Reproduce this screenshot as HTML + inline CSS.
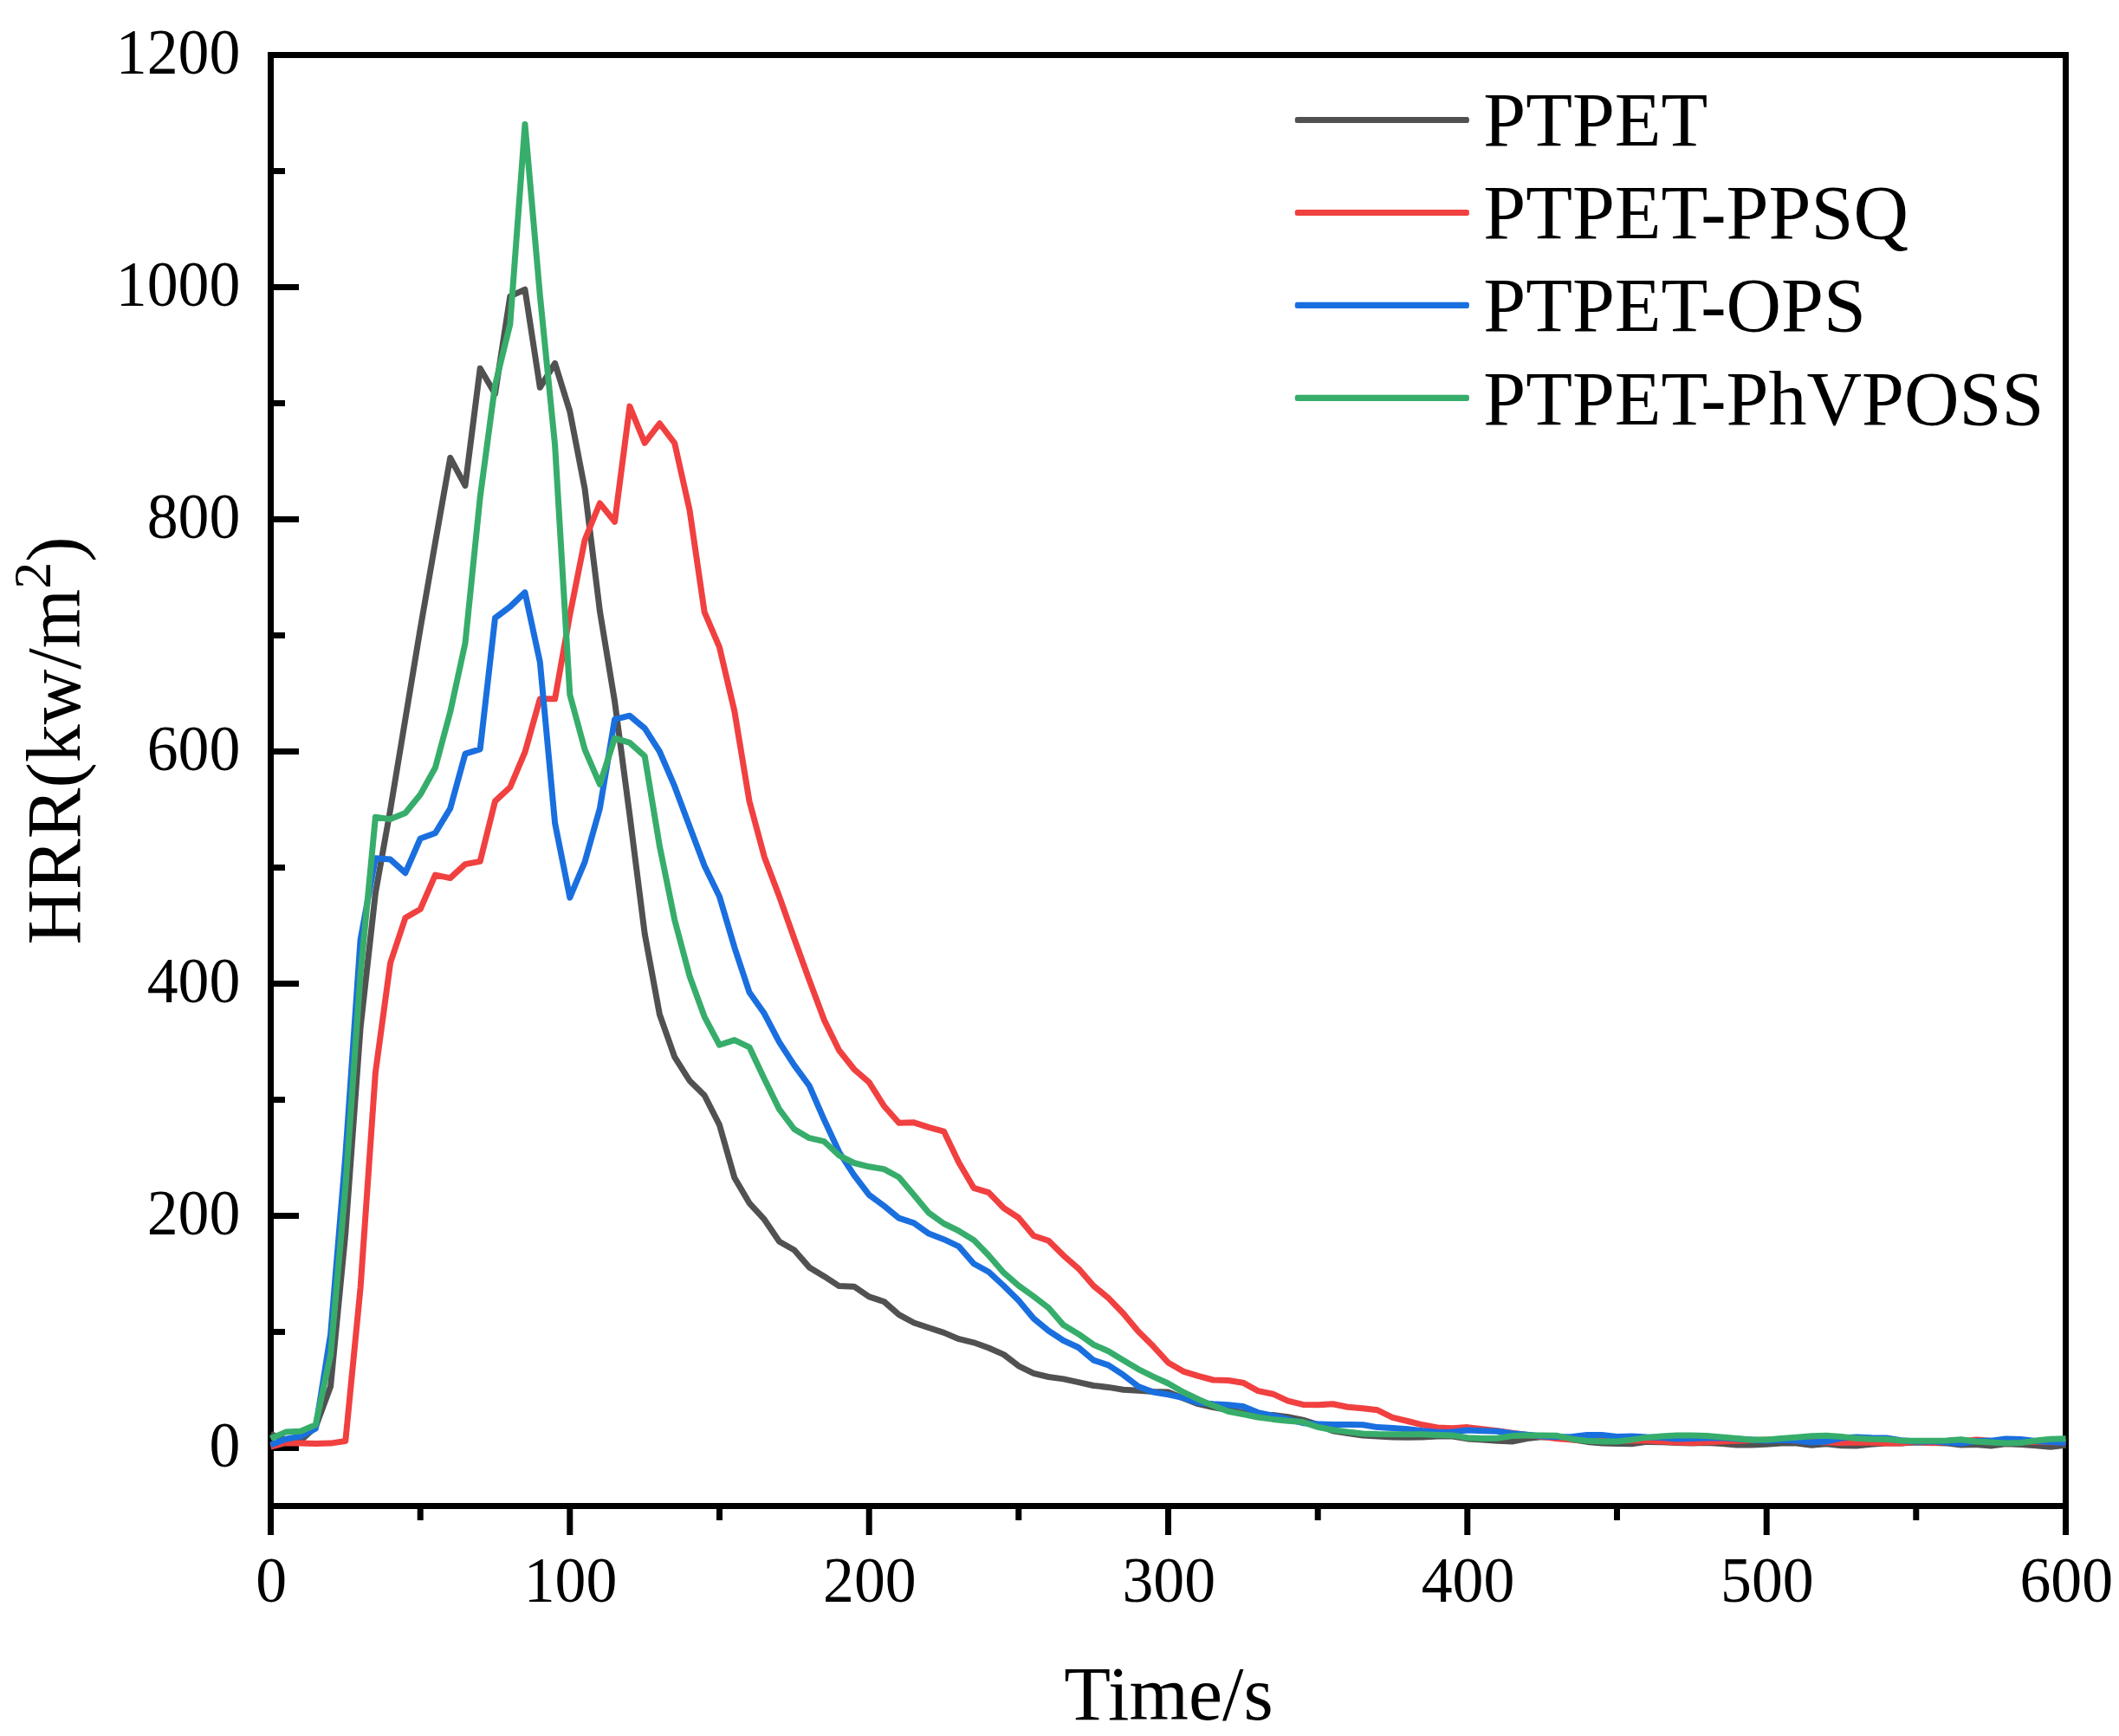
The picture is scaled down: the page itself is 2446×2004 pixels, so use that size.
<!DOCTYPE html>
<html><head><meta charset="utf-8"><title>HRR</title>
<style>html,body{margin:0;padding:0;background:#fff}svg{display:block}text{font-family:"Liberation Serif","Times New Roman",serif;fill:#000}</style></head><body>
<svg width="2446" height="2004" viewBox="0 0 2446 2004">
<rect x="0" y="0" width="2446" height="2004" fill="#fff"/>
<g stroke="#000" stroke-width="7" fill="none" stroke-linecap="butt">
<rect x="312.5" y="63.5" width="2072.0" height="1675.0"/>
<line x1="312.5" y1="1738.5" x2="312.5" y2="1772.0"/>
<line x1="485.2" y1="1738.5" x2="485.2" y2="1755.0"/>
<line x1="657.8" y1="1738.5" x2="657.8" y2="1772.0"/>
<line x1="830.5" y1="1738.5" x2="830.5" y2="1755.0"/>
<line x1="1003.2" y1="1738.5" x2="1003.2" y2="1772.0"/>
<line x1="1175.8" y1="1738.5" x2="1175.8" y2="1755.0"/>
<line x1="1348.5" y1="1738.5" x2="1348.5" y2="1772.0"/>
<line x1="1521.2" y1="1738.5" x2="1521.2" y2="1755.0"/>
<line x1="1693.8" y1="1738.5" x2="1693.8" y2="1772.0"/>
<line x1="1866.5" y1="1738.5" x2="1866.5" y2="1755.0"/>
<line x1="2039.2" y1="1738.5" x2="2039.2" y2="1772.0"/>
<line x1="2211.8" y1="1738.5" x2="2211.8" y2="1755.0"/>
<line x1="2384.5" y1="1738.5" x2="2384.5" y2="1772.0"/>
<line x1="312.5" y1="1671.5" x2="345.0" y2="1671.5"/>
<line x1="312.5" y1="1537.5" x2="329.0" y2="1537.5"/>
<line x1="312.5" y1="1403.5" x2="345.0" y2="1403.5"/>
<line x1="312.5" y1="1269.5" x2="329.0" y2="1269.5"/>
<line x1="312.5" y1="1135.5" x2="345.0" y2="1135.5"/>
<line x1="312.5" y1="1001.5" x2="329.0" y2="1001.5"/>
<line x1="312.5" y1="867.5" x2="345.0" y2="867.5"/>
<line x1="312.5" y1="733.5" x2="329.0" y2="733.5"/>
<line x1="312.5" y1="599.5" x2="345.0" y2="599.5"/>
<line x1="312.5" y1="465.5" x2="329.0" y2="465.5"/>
<line x1="312.5" y1="331.5" x2="345.0" y2="331.5"/>
<line x1="312.5" y1="197.5" x2="329.0" y2="197.5"/>
<line x1="312.5" y1="63.5" x2="345.0" y2="63.5"/>
</g>
<g font-size="74" text-anchor="middle">
<text transform="translate(313.2,1848.5) scale(0.97,1)">0</text>
<text transform="translate(658.5,1848.5) scale(0.97,1)">100</text>
<text transform="translate(1003.9,1848.5) scale(0.97,1)">200</text>
<text transform="translate(1349.2,1848.5) scale(0.97,1)">300</text>
<text transform="translate(1694.5,1848.5) scale(0.97,1)">400</text>
<text transform="translate(2039.9,1848.5) scale(0.97,1)">500</text>
<text transform="translate(2385.2,1848.5) scale(0.97,1)">600</text>
</g>
<g font-size="74" text-anchor="end">
<text transform="translate(277.3,1692.5) scale(0.97,1)">0</text>
<text transform="translate(277.3,1424.5) scale(0.97,1)">200</text>
<text transform="translate(277.3,1156.5) scale(0.97,1)">400</text>
<text transform="translate(277.3,888.5) scale(0.97,1)">600</text>
<text transform="translate(277.3,620.5) scale(0.97,1)">800</text>
<text transform="translate(277.3,352.5) scale(0.97,1)">1000</text>
<text transform="translate(277.3,84.5) scale(0.97,1)">1200</text>
</g>
<text x="1349" y="1984.7" font-size="88" text-anchor="middle">Time/s</text>
<text transform="translate(92.4,855) rotate(-90)" font-size="88" text-anchor="middle">HRR(kw/m<tspan font-size="62" dy="-34.5">2</tspan><tspan dy="34.5">)</tspan></text>
<g fill="none" stroke-width="7" stroke-linejoin="round" stroke-linecap="butt">
<path stroke="#515151" d="M312.5,1655.4 L329.8,1662.1 L347.0,1662.8 L364.3,1647.4 L381.6,1600.5 L398.8,1423.6 L416.1,1186.4 L433.4,1031.0 L450.6,934.5 L467.9,830.0 L485.2,725.5 L502.4,626.3 L519.7,528.5 L537.0,560.6 L554.2,425.3 L571.5,454.8 L588.8,342.2 L606.0,334.2 L623.3,447.3 L640.6,419.4 L657.8,474.9 L675.1,564.7 L692.4,705.4 L709.6,809.9 L726.9,941.2 L744.2,1077.9 L761.4,1171.0 L778.7,1220.2 L796.0,1247.5 L813.2,1264.5 L830.5,1298.6 L847.8,1359.5 L865.0,1388.8 L882.3,1407.7 L899.6,1433.2 L916.8,1443.0 L934.1,1462.9 L951.4,1473.4 L968.6,1484.6 L985.9,1485.2 L1003.2,1496.9 L1020.4,1502.5 L1037.7,1517.7 L1055.0,1527.0 L1072.2,1532.8 L1089.5,1538.4 L1106.8,1545.7 L1124.0,1549.8 L1141.3,1556.0 L1158.6,1563.6 L1175.8,1576.8 L1193.1,1585.3 L1210.4,1589.5 L1227.6,1591.9 L1244.9,1595.7 L1262.2,1599.5 L1279.4,1601.4 L1296.7,1604.2 L1314.0,1605.2 L1331.2,1606.5 L1348.5,1607.0 L1365.8,1613.9 L1383.0,1620.7 L1400.3,1624.6 L1417.6,1627.5 L1434.8,1630.6 L1452.1,1633.2 L1469.4,1633.4 L1486.6,1635.6 L1503.9,1639.1 L1521.2,1644.7 L1538.4,1651.8 L1555.7,1654.6 L1573.0,1657.0 L1590.2,1658.0 L1607.5,1658.9 L1624.8,1659.2 L1642.0,1658.9 L1659.3,1658.0 L1676.6,1658.1 L1693.8,1660.9 L1711.1,1661.9 L1728.4,1663.3 L1745.6,1664.1 L1762.9,1660.5 L1780.2,1658.8 L1797.4,1659.4 L1814.7,1661.9 L1832.0,1664.4 L1849.2,1665.9 L1866.5,1666.5 L1883.8,1666.8 L1901.0,1664.4 L1918.3,1664.8 L1935.6,1665.5 L1952.8,1665.9 L1970.1,1665.5 L1987.4,1666.5 L2004.6,1668.0 L2021.9,1668.0 L2039.2,1667.2 L2056.4,1666.1 L2073.7,1666.1 L2091.0,1668.3 L2108.2,1666.8 L2125.5,1668.7 L2142.8,1669.0 L2160.0,1667.2 L2177.3,1666.1 L2194.6,1666.1 L2211.8,1664.9 L2229.1,1665.5 L2246.4,1665.9 L2263.6,1668.0 L2280.9,1667.6 L2298.2,1669.1 L2315.4,1666.8 L2332.7,1667.6 L2350.0,1668.7 L2367.2,1670.2 L2384.5,1668.3"/>
<path stroke="#F14040" d="M312.5,1670.2 L329.8,1665.7 L347.0,1666.1 L364.3,1666.5 L381.6,1666.1 L398.8,1663.5 L416.1,1486.6 L433.4,1238.1 L450.6,1111.5 L467.9,1059.5 L485.2,1049.5 L502.4,1010.1 L519.7,1013.6 L537.0,997.6 L554.2,994.4 L571.5,924.9 L588.8,908.8 L606.0,868.2 L623.3,806.8 L640.6,806.8 L657.8,710.0 L675.1,623.0 L692.4,581.0 L709.6,602.2 L726.9,469.1 L744.2,511.3 L761.4,488.8 L778.7,511.5 L796.0,588.8 L813.2,706.7 L830.5,747.2 L847.8,820.9 L865.0,924.9 L882.3,989.2 L899.6,1035.0 L916.8,1083.5 L934.1,1131.3 L951.4,1177.6 L968.6,1212.5 L985.9,1234.3 L1003.2,1249.4 L1020.4,1276.7 L1037.7,1296.3 L1055.0,1295.8 L1072.2,1301.4 L1089.5,1306.1 L1106.8,1341.9 L1124.0,1371.3 L1141.3,1376.6 L1158.6,1394.5 L1175.8,1405.8 L1193.1,1426.5 L1210.4,1432.3 L1227.6,1449.3 L1244.9,1464.3 L1262.2,1484.2 L1279.4,1498.4 L1296.7,1516.3 L1314.0,1537.1 L1331.2,1554.1 L1348.5,1573.0 L1365.8,1583.1 L1383.0,1588.4 L1400.3,1593.0 L1417.6,1593.5 L1434.8,1596.2 L1452.1,1605.6 L1469.4,1609.2 L1486.6,1617.2 L1503.9,1621.4 L1521.2,1621.8 L1538.4,1620.7 L1555.7,1624.2 L1573.0,1625.7 L1590.2,1627.8 L1607.5,1636.3 L1624.8,1640.5 L1642.0,1644.8 L1659.3,1648.0 L1676.6,1648.7 L1693.8,1647.6 L1711.1,1649.7 L1728.4,1651.7 L1745.6,1654.2 L1762.9,1656.5 L1780.2,1658.6 L1797.4,1660.8 L1814.7,1661.9 L1832.0,1662.4 L1849.2,1662.8 L1866.5,1663.1 L1883.8,1663.1 L1901.0,1663.1 L1918.3,1664.1 L1935.6,1665.1 L1952.8,1665.6 L1970.1,1664.7 L1987.4,1664.1 L2004.6,1663.3 L2021.9,1662.4 L2039.2,1662.1 L2056.4,1662.1 L2073.7,1662.8 L2091.0,1664.1 L2108.2,1665.1 L2125.5,1665.5 L2142.8,1665.1 L2160.0,1665.3 L2177.3,1666.1 L2194.6,1666.0 L2211.8,1664.0 L2229.1,1665.7 L2246.4,1664.8 L2263.6,1664.1 L2280.9,1661.9 L2298.2,1663.5 L2315.4,1664.8 L2332.7,1664.8 L2350.0,1664.1 L2367.2,1664.7 L2384.5,1664.8"/>
<path stroke="#1A6FDF" d="M312.5,1668.0 L329.8,1661.2 L347.0,1658.1 L364.3,1649.1 L381.6,1540.2 L398.8,1333.8 L416.1,1084.6 L433.4,990.8 L450.6,992.1 L467.9,1007.7 L485.2,968.0 L502.4,961.7 L519.7,933.3 L537.0,870.2 L554.2,864.8 L571.5,713.4 L588.8,700.4 L606.0,683.9 L623.3,764.3 L640.6,950.3 L657.8,1036.1 L675.1,994.8 L692.4,933.2 L709.6,830.4 L726.9,826.2 L744.2,840.7 L761.4,867.5 L778.7,907.7 L796.0,953.9 L813.2,999.5 L830.5,1035.0 L847.8,1093.6 L865.0,1145.5 L882.3,1170.1 L899.6,1203.2 L916.8,1229.6 L934.1,1253.2 L951.4,1292.8 L968.6,1329.8 L985.9,1356.6 L1003.2,1379.4 L1020.4,1392.0 L1037.7,1406.2 L1055.0,1411.8 L1072.2,1424.1 L1089.5,1430.7 L1106.8,1438.9 L1124.0,1458.7 L1141.3,1468.2 L1158.6,1484.2 L1175.8,1501.2 L1193.1,1522.0 L1210.4,1536.2 L1227.6,1547.5 L1244.9,1555.5 L1262.2,1570.2 L1279.4,1575.8 L1296.7,1587.2 L1314.0,1600.5 L1331.2,1607.0 L1348.5,1609.9 L1365.8,1613.6 L1383.0,1619.2 L1400.3,1620.7 L1417.6,1621.8 L1434.8,1623.5 L1452.1,1630.6 L1469.4,1634.1 L1486.6,1638.4 L1503.9,1642.7 L1521.2,1644.0 L1538.4,1644.4 L1555.7,1644.4 L1573.0,1644.7 L1590.2,1647.6 L1607.5,1648.6 L1624.8,1649.8 L1642.0,1651.8 L1659.3,1653.3 L1676.6,1652.9 L1693.8,1651.0 L1711.1,1651.7 L1728.4,1652.3 L1745.6,1654.8 L1762.9,1656.2 L1780.2,1658.1 L1797.4,1658.8 L1814.7,1658.5 L1832.0,1656.6 L1849.2,1656.6 L1866.5,1658.5 L1883.8,1658.1 L1901.0,1659.0 L1918.3,1659.4 L1935.6,1660.9 L1952.8,1660.4 L1970.1,1660.0 L1987.4,1659.8 L2004.6,1660.9 L2021.9,1662.1 L2039.2,1663.1 L2056.4,1662.3 L2073.7,1663.1 L2091.0,1665.1 L2108.2,1664.1 L2125.5,1660.1 L2142.8,1658.9 L2160.0,1659.8 L2177.3,1660.0 L2194.6,1662.8 L2211.8,1664.1 L2229.1,1663.7 L2246.4,1664.7 L2263.6,1666.3 L2280.9,1663.5 L2298.2,1663.1 L2315.4,1661.0 L2332.7,1661.6 L2350.0,1663.5 L2367.2,1664.4 L2384.5,1665.6"/>
<path stroke="#37AD6B" d="M312.5,1660.6 L329.8,1653.1 L347.0,1652.2 L364.3,1644.8 L381.6,1564.3 L398.8,1370.0 L416.1,1124.8 L433.4,943.3 L450.6,945.6 L467.9,938.5 L485.2,917.3 L502.4,886.3 L519.7,821.9 L537.0,742.5 L554.2,574.0 L571.5,444.5 L588.8,374.4 L606.0,143.5 L623.3,340.9 L640.6,513.7 L657.8,801.8 L675.1,865.4 L692.4,905.4 L709.6,852.1 L726.9,857.3 L744.2,872.9 L761.4,976.8 L778.7,1061.8 L796.0,1126.7 L813.2,1173.8 L830.5,1206.3 L847.8,1200.6 L865.0,1208.8 L882.3,1245.6 L899.6,1280.6 L916.8,1303.5 L934.1,1313.7 L951.4,1317.7 L968.6,1333.8 L985.9,1342.5 L1003.2,1346.8 L1020.4,1349.6 L1037.7,1359.0 L1055.0,1379.4 L1072.2,1400.2 L1089.5,1412.5 L1106.8,1420.9 L1124.0,1431.4 L1141.3,1449.3 L1158.6,1469.2 L1175.8,1484.2 L1193.1,1496.5 L1210.4,1509.8 L1227.6,1529.6 L1244.9,1539.9 L1262.2,1552.2 L1279.4,1559.7 L1296.7,1570.2 L1314.0,1580.6 L1331.2,1589.1 L1348.5,1597.0 L1365.8,1607.0 L1383.0,1615.2 L1400.3,1622.6 L1417.6,1629.3 L1434.8,1632.5 L1452.1,1636.0 L1469.4,1638.4 L1486.6,1640.3 L1503.9,1641.6 L1521.2,1647.4 L1538.4,1650.7 L1555.7,1652.9 L1573.0,1655.0 L1590.2,1655.6 L1607.5,1655.8 L1624.8,1655.8 L1642.0,1655.7 L1659.3,1656.4 L1676.6,1656.9 L1693.8,1659.7 L1711.1,1660.6 L1728.4,1660.2 L1745.6,1657.6 L1762.9,1656.9 L1780.2,1656.9 L1797.4,1657.3 L1814.7,1661.2 L1832.0,1663.3 L1849.2,1664.0 L1866.5,1663.9 L1883.8,1661.9 L1901.0,1659.4 L1918.3,1658.1 L1935.6,1657.0 L1952.8,1657.0 L1970.1,1657.6 L1987.4,1659.0 L2004.6,1660.5 L2021.9,1661.9 L2039.2,1662.1 L2056.4,1660.6 L2073.7,1659.2 L2091.0,1657.8 L2108.2,1657.3 L2125.5,1658.4 L2142.8,1660.5 L2160.0,1661.2 L2177.3,1661.5 L2194.6,1663.1 L2211.8,1663.3 L2229.1,1663.2 L2246.4,1662.9 L2263.6,1661.7 L2280.9,1664.0 L2298.2,1665.1 L2315.4,1665.9 L2332.7,1665.5 L2350.0,1663.1 L2367.2,1661.2 L2384.5,1660.8"/>
</g>
<g>
<rect x="1494.8" y="134.9" width="201.1" height="7.2" rx="2.5" fill="#515151"/>
<rect x="1494.8" y="241.9" width="201.1" height="7.2" rx="2.5" fill="#F14040"/>
<rect x="1494.8" y="348.8" width="201.1" height="7.2" rx="2.5" fill="#1A6FDF"/>
<rect x="1494.8" y="455.8" width="201.1" height="7.2" rx="2.5" fill="#37AD6B"/>
</g>
<g font-size="88">
<text x="1712.2" y="167.8">PTPET</text>
<text x="1712.2" y="275.1">PTPET-PPSQ</text>
<text x="1712.2" y="382.3">PTPET-OPS</text>
<text x="1712.2" y="489.6">PTPET-PhVPOSS</text>
</g>
</svg></body></html>
